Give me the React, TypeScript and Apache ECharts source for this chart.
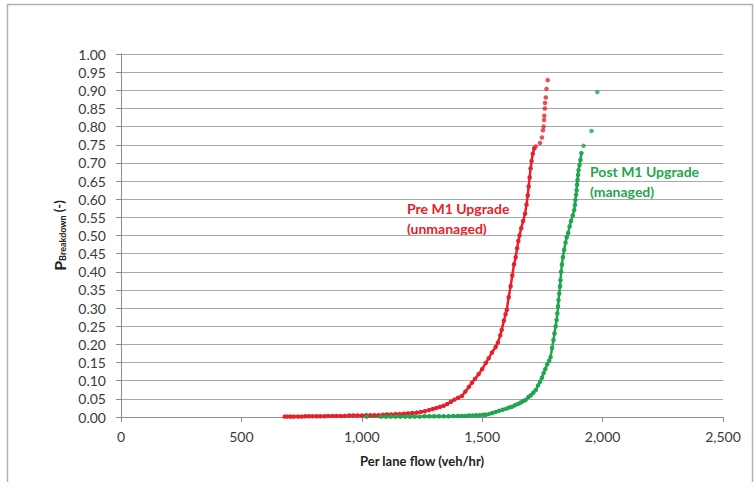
import React, { useEffect, useRef } from "react";
import * as echarts from "echarts";

const xTicks = [0, 500, 1000, 1500, 2000, 2500];

// Pre M1 Upgrade (unmanaged): dense body of the curve
const preUnmanaged: [number, number][] = [
  [680, 0.001], [692, 0.001], [705, 0.001], [718, 0.001], [735, 0.001], [750, 0.001],
  [765, 0.002], [780, 0.002], [795, 0.002], [812, 0.002], [828, 0.002], [845, 0.002],
  [860, 0.003], [878, 0.003], [895, 0.003], [912, 0.003], [930, 0.003], [948, 0.004],
  [965, 0.004], [982, 0.004], [1000, 0.004], [1018, 0.005], [1035, 0.005], [1052, 0.005],
  [1070, 0.005], [1088, 0.006], [1105, 0.007], [1122, 0.007], [1140, 0.008], [1158, 0.008],
  [1175, 0.009], [1192, 0.01], [1210, 0.011], [1228, 0.012], [1245, 0.014], [1262, 0.016],
  [1279, 0.019], [1295, 0.022], [1310, 0.025], [1325, 0.028], [1340, 0.031], [1355, 0.036],
  [1370, 0.042], [1385, 0.048], [1400, 0.053], [1416, 0.058], [1430, 0.07], [1445, 0.083],
  [1457, 0.094], [1470, 0.105], [1485, 0.118], [1500, 0.132], [1515, 0.149], [1527, 0.162],
  [1540, 0.177], [1556, 0.193], [1565, 0.205], [1575, 0.225], [1581, 0.24], [1590, 0.265],
  [1597, 0.283], [1602, 0.295], [1610, 0.33], [1618, 0.36], [1625, 0.39], [1632, 0.42],
  [1639, 0.44], [1645, 0.465], [1650, 0.485], [1655, 0.5], [1662, 0.52], [1670, 0.54],
  [1678, 0.56], [1684, 0.585], [1689, 0.61], [1693, 0.635], [1697, 0.66], [1701, 0.685],
  [1705, 0.705], [1710, 0.725], [1716, 0.74],
];
// Pre M1 Upgrade (unmanaged): sparse upper tail
const preUnmanagedTail: [number, number][] = [
  [1722, 0.745], [1740, 0.755], [1748, 0.77], [1752, 0.79], [1755, 0.8], [1757, 0.818],
  [1758, 0.83], [1760, 0.85], [1761, 0.865], [1764, 0.88], [1767, 0.904], [1772, 0.928],
];

// Post M1 Upgrade (managed): dense body of the curve
const postManaged: [number, number][] = [
  [1020, 0.001], [1080, 0.001], [1100, 0.001], [1120, 0.001], [1140, 0.001], [1160, 0.001],
  [1180, 0.001], [1200, 0.001], [1220, 0.001], [1240, 0.001], [1260, 0.002], [1280, 0.002],
  [1300, 0.002], [1320, 0.002], [1340, 0.002], [1360, 0.002], [1380, 0.003], [1400, 0.003],
  [1416, 0.003], [1430, 0.003], [1445, 0.004], [1460, 0.004], [1475, 0.005], [1490, 0.005],
  [1505, 0.006], [1515, 0.006], [1528, 0.008], [1542, 0.011], [1556, 0.014], [1570, 0.017],
  [1585, 0.02], [1600, 0.023], [1612, 0.026], [1623, 0.028], [1635, 0.032], [1648, 0.036],
  [1660, 0.04], [1670, 0.044], [1680, 0.047], [1692, 0.055], [1702, 0.06], [1712, 0.067],
  [1722, 0.074], [1732, 0.087], [1740, 0.097], [1748, 0.108], [1755, 0.121], [1762, 0.132],
  [1770, 0.145], [1778, 0.155], [1784, 0.165], [1790, 0.19], [1796, 0.212], [1800, 0.23],
  [1805, 0.25], [1809, 0.267], [1812, 0.285], [1815, 0.305], [1817, 0.322], [1820, 0.34],
  [1823, 0.36], [1825, 0.377], [1828, 0.4], [1831, 0.42], [1835, 0.44], [1840, 0.46],
  [1846, 0.48], [1851, 0.495], [1857, 0.507], [1863, 0.525], [1869, 0.54], [1876, 0.555],
  [1882, 0.57], [1885, 0.584], [1887, 0.598], [1890, 0.612], [1892, 0.625], [1894, 0.64],
  [1896, 0.653], [1898, 0.667], [1900, 0.68], [1904, 0.694], [1908, 0.708], [1912, 0.727],
];
// Post M1 Upgrade (managed): sparse upper tail
const postManagedTail: [number, number][] = [
  [1921, 0.747], [1954, 0.788], [1978, 0.895],
];

const RED = "#e6212a";
const GREEN = "#1fa64e";
const FONT = "Lato, 'Open Sans', sans-serif";

export default function App() {
  const ref = useRef<HTMLDivElement>(null);
  useEffect(() => {
    if (!ref.current) return;
    const chart = echarts.init(ref.current, undefined, { renderer: "svg" });
    const body = (name: string, data: [number, number][], color: string) => ({
      name,
      type: "line",
      data,
      symbol: "circle",
      symbolSize: 4.5,
      showSymbol: true,
      showAllSymbol: true,
      lineStyle: { color, width: 2.5 },
      itemStyle: { color, borderWidth: 0 },
      z: 3,
    });
    const tail = (name: string, data: [number, number][], color: string) => ({
      name,
      type: "scatter",
      data,
      symbol: "circle",
      symbolSize: 4.5,
      itemStyle: { color },
      z: 3,
    });
    chart.setOption({
      animation: false,
      backgroundColor: "#fff",
      textStyle: { fontFamily: FONT },
      grid: { left: 121, right: 32, top: 54, bottom: 65, containLabel: false },
      xAxis: {
        type: "value",
        min: 0,
        max: 2500,
        interval: 500,
        name: "Per lane flow (veh/hr)",
        nameLocation: "middle",
        nameGap: 37,
        nameTextStyle: { fontFamily: FONT, fontWeight: "bold", fontSize: 13, color: "#222" },
        axisLine: { show: true, lineStyle: { color: "#8c8c8c", width: 1 } },
        axisTick: { show: true, length: 5, lineStyle: { color: "#8c8c8c" } },
        axisLabel: {
          margin: 12,
          fontSize: 14,
          color: "#3a3a3a",
          fontFamily: FONT,
          formatter: (v: number) => (xTicks.includes(v) ? v.toLocaleString("en-US") : ""),
        },
        splitLine: { show: false },
      },
      yAxis: {
        type: "value",
        min: 0,
        max: 1,
        interval: 0.05,
        name: "{p|P}{s|Breakdown}{n| (-)}",
        nameLocation: "middle",
        nameGap: 50,
        nameRotate: 90,
        nameTextStyle: {
          rich: {
            p: { fontFamily: FONT, fontWeight: "bold", fontSize: 16, color: "#222" },
            s: { fontFamily: FONT, fontWeight: "bold", fontSize: 9, color: "#222", padding: [6, 0, 0, 0] },
            n: { fontFamily: FONT, fontWeight: "bold", fontSize: 13, color: "#222" },
          },
        },
        axisLine: { show: true, lineStyle: { color: "#8c8c8c", width: 1 } },
        axisTick: { show: true, length: 5, lineStyle: { color: "#8c8c8c" } },
        axisLabel: {
          margin: 15,
          fontSize: 14,
          color: "#3a3a3a",
          fontFamily: FONT,
          formatter: (v: number) => v.toFixed(2),
        },
        splitLine: { show: true, lineStyle: { color: "#a8a8a8", width: 1 } },
      },
      graphic: [
        {
          type: "rect",
          shape: { x: 7.5, y: 4.5, width: 745, height: 490 },
          style: { fill: "none", stroke: "#b0b0b0", lineWidth: 1.5 },
          silent: true,
        },
        {
          type: "text",
          left: 407,
          top: 198,
          style: {
            text: "Pre M1 Upgrade\n(unmanaged)",
            fill: RED,
            font: `bold 14px ${FONT}`,
            lineHeight: 20,
          },
        },
        {
          type: "text",
          left: 590,
          top: 161,
          style: {
            text: "Post M1 Upgrade\n(managed)",
            fill: GREEN,
            font: `bold 14px ${FONT}`,
            lineHeight: 20,
          },
        },
      ],
      series: [
        body("Pre M1 Upgrade (unmanaged)", preUnmanaged, RED),
        tail("Pre M1 Upgrade (unmanaged) tail", preUnmanagedTail, RED),
        body("Post M1 Upgrade (managed)", postManaged, GREEN),
        tail("Post M1 Upgrade (managed) tail", postManagedTail, GREEN),
      ],
    });
    return () => chart.dispose();
  }, []);
  return <div ref={ref} style={{ width: 755, height: 482, position: "absolute", left: 0, top: 0 }} />;
}
